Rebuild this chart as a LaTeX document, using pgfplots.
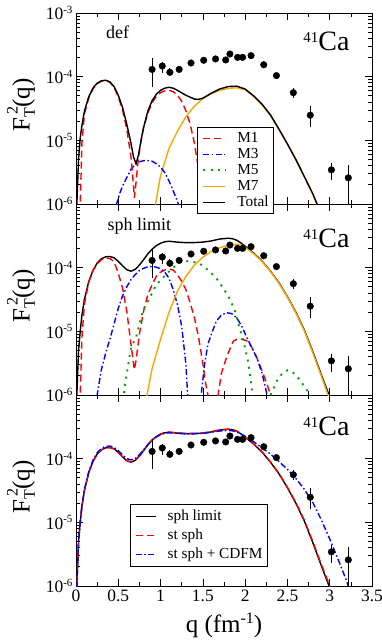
\documentclass[border=0pt]{standalone}
\usepackage{fontspec}
\setmainfont{Liberation Serif}
\usepackage{pgfplots}
\usepackage{pgfplotstable}
\pgfplotsset{compat=1.18}
\definecolor{grorange}{RGB}{255,165,0}
\definecolor{grgreen}{RGB}{0,165,0}
\newcommand\tenp[1]{10\raisebox{0.8ex}{\fontsize{11}{11}\selectfont -#1}}
\newcommand\ylab{F\rlap{\kern0.12em\raisebox{1.05ex}{\fontsize{16}{16}\selectfont 2}}\raisebox{-0.45ex}{\fontsize{16}{16}\selectfont T}(q)}

\tikzset{
  lm1/.style={red, line width=1.4pt, dash pattern=on 7pt off 4pt},
  lm3/.style={blue, line width=1.4pt, dash pattern=on 6pt off 2.5pt on 1.5pt off 2.5pt},
  lm5/.style={grgreen, line width=1.9pt, dash pattern=on 2pt off 5.3pt},
  lm7/.style={grorange, line width=1.4pt},
  ltot/.style={black, line width=1.4pt},
}
\pgfplotsset{
  every axis/.append style={
    scale only axis, width=296pt, height=191pt,
    xmin=0, xmax=3.5, ymin=1e-6, ymax=1e-3,
    xtick={0,0.5,1,1.5,2,2.5,3,3.5},
    minor xtick={0.25,0.75,1.25,1.75,2.25,2.75,3.25},
    ytick={1e-6,1e-5,1e-4,1e-3},
    minor ytick={2e-6,3e-6,4e-6,5e-6,6e-6,7e-6,8e-6,9e-6,2e-5,3e-5,4e-5,5e-5,6e-5,7e-5,8e-5,9e-5,2e-4,3e-4,4e-4,5e-4,6e-4,7e-4,8e-4,9e-4},
    tick align=inside, major tick length=7pt, minor tick length=4pt,
    axis line style={line width=0.9pt},
    tick style={black, line width=0.7pt},
    tick label style={font=\fontsize{17.4}{17.4}\selectfont},
    ylabel={\ylab},
    ylabel style={font=\fontsize{25}{25}\selectfont, at={(axis description cs:-0.186,0.52)}, anchor=center},
    legend cell align=left,
  },
}

\pgfplotstableread{
q f ep em
0.90 1.30e-4 6.4e-5 6.0e-5
1.02 1.47e-4 2.5e-5 3.2e-5
1.11 1.17e-4 1.8e-5 1.4e-5
1.22 1.30e-4 8e-6 8e-6
1.36 1.64e-4 1e-5 1e-5
1.51 1.81e-4 1e-5 1e-5
1.65 1.90e-4 1.5e-5 1.5e-5
1.77 1.83e-4 2e-5 2e-5
1.82 2.27e-4 1.5e-5 1.5e-5
1.91 2.01e-4 1e-5 1e-5
1.97 2.01e-4 1e-5 1e-5
2.07 2.14e-4 1e-5 1e-5
2.22 1.54e-4 1e-5 1e-5
2.37 1.04e-4 8e-6 8e-6
2.57 5.6e-5 1.0e-5 1.0e-5
2.77 2.48e-5 1.0e-5 0.85e-5
3.02 3.44e-6 0.9e-6 1.1e-6
3.22 2.58e-6 1.5e-6 1.65e-6
}\expdata

\begin{document}
\begin{tikzpicture}
% ---------------- panel 3 ----------------
\begin{semilogyaxis}[at={(76pt,-586pt)}, anchor=south west,
  xticklabels={0,0.5,1,1.5,2,2.5,3,3.5},
  yticklabels={\tenp{6},\tenp{5},\tenp{4},{}},
  xlabel={q (fm\raisebox{0.85ex}{\fontsize{16}{16}\selectfont -1})},
  xlabel style={font=\fontsize{25}{25}\selectfont, at={(axis description cs:0.5,-0.246)}, anchor=base},
  legend style={at={(0.182,0.429)}, anchor=north west, draw=black, line width=0.8pt, fill=white,
    font=\fontsize{15.3}{15.3}\selectfont, inner xsep=5pt, inner ysep=4.5pt, row sep=4pt, column sep=11pt,
    nodes={inner sep=0pt, text height=12pt, text depth=3pt}},
]
\addplot[forget plot, ltot] coordinates {(0,1e-8)(0.01,1e-6)(0.03,5e-6)(0.05,1.0e-5)(0.07,1.8e-5)(0.1,3.2e-5)(0.15,6.0e-5)(0.2,9.0e-5)(0.25,1.18e-4)(0.3,1.38e-4)(0.35,1.48e-4)(0.4,1.5e-4)(0.45,1.43e-4)(0.5,1.26e-4)(0.55,1.07e-4)(0.6,9.3e-5)(0.65,8.8e-5)(0.7,9.4e-5)(0.75,1.1e-4)(0.8,1.34e-4)(0.85,1.65e-4)(0.9,1.95e-4)(0.95,2.22e-4)(1.0,2.42e-4)(1.05,2.55e-4)(1.1,2.6e-4)(1.2,2.52e-4)(1.3,2.47e-4)(1.4,2.48e-4)(1.5,2.52e-4)(1.6,2.63e-4)(1.7,2.82e-4)(1.8,2.9e-4)(1.85,2.85e-4)(1.9,2.7e-4)(1.95,2.45e-4)(2.0,2.17e-4)(2.1,1.7e-4)(2.2,1.27e-4)(2.3,8.8e-5)(2.4,5.8e-5)(2.5,3.5e-5)(2.6,2.0e-5)(2.7,1.05e-5)(2.8,4.8e-6)(2.9,2.1e-6)(2.95,1.4e-6)(3.0,9.5e-7)(3.05,6e-7)(3.1,3e-7)};
\addplot[forget plot, lm1] coordinates {(0,1e-8)(0.01,1e-6)(0.03,5e-6)(0.05,1.0e-5)(0.07,1.8e-5)(0.1,3.2e-5)(0.15,6.0e-5)(0.2,9.0e-5)(0.25,1.18e-4)(0.3,1.37e-4)(0.35,1.47e-4)(0.4,1.49e-4)(0.45,1.42e-4)(0.5,1.26e-4)(0.55,1.07e-4)(0.6,9.3e-5)(0.65,8.9e-5)(0.7,9.5e-5)(0.75,1.12e-4)(0.8,1.36e-4)(0.85,1.67e-4)(0.9,1.97e-4)(0.95,2.24e-4)(1.0,2.44e-4)(1.05,2.57e-4)(1.1,2.62e-4)(1.2,2.55e-4)(1.3,2.49e-4)(1.4,2.5e-4)(1.5,2.54e-4)(1.6,2.65e-4)(1.7,2.84e-4)(1.8,2.92e-4)(1.85,2.87e-4)(1.9,2.72e-4)(1.95,2.47e-4)(2.0,2.19e-4)(2.1,1.72e-4)(2.2,1.28e-4)(2.3,8.9e-5)(2.4,5.85e-5)(2.5,3.55e-5)(2.6,2.05e-5)(2.7,1.08e-5)(2.8,5.0e-6)(2.9,2.2e-6)(2.95,1.5e-6)(3.0,1.0e-6)(3.05,6.5e-7)(3.1,3e-7)};
\addplot[forget plot, lm3] coordinates {(0,1e-8)(0.01,1e-6)(0.03,5e-6)(0.05,1.0e-5)(0.07,1.8e-5)(0.1,3.3e-5)(0.15,6.2e-5)(0.2,9.4e-5)(0.25,1.24e-4)(0.3,1.45e-4)(0.35,1.56e-4)(0.4,1.58e-4)(0.45,1.5e-4)(0.5,1.34e-4)(0.55,1.15e-4)(0.6,1.0e-4)(0.65,9.6e-5)(0.7,1.0e-4)(0.75,1.15e-4)(0.8,1.38e-4)(0.85,1.67e-4)(0.9,1.96e-4)(0.95,2.2e-4)(1.0,2.38e-4)(1.05,2.5e-4)(1.1,2.55e-4)(1.2,2.5e-4)(1.3,2.45e-4)(1.4,2.46e-4)(1.5,2.5e-4)(1.6,2.6e-4)(1.7,2.72e-4)(1.8,2.78e-4)(1.85,2.74e-4)(1.9,2.62e-4)(1.95,2.45e-4)(2.0,2.25e-4)(2.1,1.85e-4)(2.2,1.48e-4)(2.3,1.18e-4)(2.36,1.0e-4)(2.4,9.0e-5)(2.5,6.8e-5)(2.6,4.9e-5)(2.7,3.3e-5)(2.8,2.05e-5)(2.9,1.1e-5)(3.0,5.5e-6)(3.1,2.6e-6)(3.2,1.2e-6)(3.25,7.5e-7)(3.3,4e-7)};
\addplot[forget plot, only marks, mark=*, mark size=3.3pt, black, mark options={fill=black}, error bars/y dir=both, error bars/y explicit, error bars/error mark=none, error bars/error bar style={line width=0.8pt, black}] table[x=q, y=f, y error plus=ep, y error minus=em] {\expdata};
\addlegendimage{legend image code/.code={\draw[ltot] (0pt,0pt) -- (20pt,0pt);}}
\addlegendimage{legend image code/.code={\draw[lm1] (0pt,0pt) -- (20pt,0pt);}}
\addlegendimage{legend image code/.code={\draw[lm3] (0pt,0pt) -- (20pt,0pt);}}
\legend{sph limit, st sph, st sph + CDFM}
\node[anchor=base east, font=\fontsize{28}{28}\selectfont] at (rel axis cs:0.936,0.79) {\raisebox{8pt}{\fontsize{15}{15}\selectfont 41}Ca};
\end{semilogyaxis}
% ---------------- panel 2 ----------------
\begin{semilogyaxis}[at={(76pt,-395pt)}, anchor=south west,
  xticklabels={}, yticklabels={\tenp{6},\tenp{5},\tenp{4},{}},
]
\addplot[ltot] coordinates {(0,1e-8)(0.01,1e-6)(0.03,5e-6)(0.05,1.0e-5)(0.07,1.8e-5)(0.1,3.2e-5)(0.15,6.0e-5)(0.2,9.0e-5)(0.25,1.18e-4)(0.3,1.38e-4)(0.35,1.48e-4)(0.4,1.5e-4)(0.45,1.43e-4)(0.5,1.26e-4)(0.55,1.07e-4)(0.6,9.3e-5)(0.65,8.8e-5)(0.7,9.4e-5)(0.75,1.1e-4)(0.8,1.34e-4)(0.85,1.65e-4)(0.9,1.95e-4)(0.95,2.22e-4)(1.0,2.42e-4)(1.05,2.55e-4)(1.1,2.6e-4)(1.2,2.52e-4)(1.3,2.47e-4)(1.4,2.48e-4)(1.5,2.52e-4)(1.6,2.63e-4)(1.7,2.82e-4)(1.8,2.9e-4)(1.85,2.85e-4)(1.9,2.7e-4)(1.95,2.45e-4)(2.0,2.17e-4)(2.1,1.7e-4)(2.2,1.27e-4)(2.3,8.8e-5)(2.4,5.8e-5)(2.5,3.5e-5)(2.6,2.0e-5)(2.7,1.05e-5)(2.8,4.8e-6)(2.9,2.1e-6)(2.95,1.4e-6)(3.0,9.5e-7)(3.05,6e-7)(3.1,3e-7)};
\addplot[lm1] coordinates {(0.03,1e-7)(0.05,1e-6)(0.07,8e-6)(0.1,2.7e-5)(0.15,5.8e-5)(0.2,9e-5)(0.25,1.15e-4)(0.3,1.33e-4)(0.35,1.42e-4)(0.4,1.4e-4)(0.45,1.24e-4)(0.5,8.2e-5)(0.55,4.8e-5)(0.6,2.1e-5)(0.65,6.3e-6)(0.68,3.1e-6)(0.69,2.5e-6)(0.71,3.5e-6)(0.75,9.1e-6)(0.8,2.1e-5)(0.85,3.8e-5)(0.9,5.4e-5)(0.95,7.3e-5)(1.0,8.5e-5)(1.05,9.2e-5)(1.1,9.5e-5)(1.15,9.2e-5)(1.2,7.7e-5)(1.25,6.1e-5)(1.3,4.5e-5)(1.35,2.8e-5)(1.4,1.64e-5)(1.45,8e-6)(1.5,3.1e-6)(1.53,1.6e-6)(1.56,1e-6)(1.6,1e-7)(1.64,1e-7)(1.68,1e-6)(1.72,2.2e-6)(1.78,3.9e-6)(1.82,5.3e-6)(1.86,7.0e-6)(1.9,7.5e-6)(1.94,7.6e-6)(1.98,7.4e-6)(2.02,7.1e-6)(2.08,5.6e-6)(2.14,3.8e-6)(2.2,2.4e-6)(2.25,1.6e-6)(2.3,1e-6)(2.35,4e-7)};
\addplot[lm3] coordinates {(0.21,1e-7)(0.25,1e-6)(0.3,2.5e-6)(0.35,4.5e-6)(0.4,7.5e-6)(0.45,1.3e-5)(0.5,2.3e-5)(0.55,3.6e-5)(0.6,5e-5)(0.65,6.5e-5)(0.7,7.8e-5)(0.75,9e-5)(0.8,9.8e-5)(0.85,1.03e-4)(0.9,1.04e-4)(0.95,1.02e-4)(1.0,9.6e-5)(1.05,8.5e-5)(1.1,6.8e-5)(1.15,4.5e-5)(1.2,2.6e-5)(1.25,1.2e-5)(1.3,3e-6)(1.32,1e-6)(1.36,1e-7)(1.44,1e-7)(1.48,1e-6)(1.52,3e-6)(1.56,6.3e-6)(1.6,9e-6)(1.66,1.45e-5)(1.72,1.8e-5)(1.78,1.96e-5)(1.84,1.9e-5)(1.9,1.64e-5)(1.96,1.2e-5)(2.02,8e-6)(2.08,5.5e-6)(2.14,3.8e-6)(2.2,2.2e-6)(2.26,1e-6)(2.3,3e-7)};
\addplot[lm5] coordinates {(0.53,1e-7)(0.57,1.2e-6)(0.65,5.6e-6)(0.71,8e-6)(0.79,2.1e-5)(0.87,3.35e-5)(0.95,5.4e-5)(1.06,7.7e-5)(1.14,9.8e-5)(1.24,1.24e-4)(1.34,1.27e-4)(1.46,1.17e-4)(1.56,9.2e-5)(1.66,6.8e-5)(1.74,4.8e-5)(1.82,3.2e-5)(1.88,2.1e-5)(1.92,1.3e-5)(1.98,7.1e-6)(2.04,3.1e-6)(2.08,1.2e-6)(2.12,1e-7)(2.26,1e-7)(2.3,1e-6)(2.38,1.7e-6)(2.44,2.2e-6)(2.5,2.45e-6)(2.56,2.3e-6)(2.65,1.7e-6)(2.72,1.25e-6)(2.77,1e-6)(2.8,3e-7)};
\addplot[lm7] coordinates {(0.8,3e-7)(0.84,1e-6)(0.9,2.6e-6)(1.0,7.5e-6)(1.1,2.0e-5)(1.2,4.3e-5)(1.3,7.3e-5)(1.4,1.1e-4)(1.5,1.46e-4)(1.6,1.8e-4)(1.7,2.06e-4)(1.8,2.25e-4)(1.9,2.33e-4)(1.95,2.3e-4)(2.0,2.1e-4)(2.1,1.66e-4)(2.2,1.25e-4)(2.3,8.7e-5)(2.4,5.7e-5)(2.5,3.45e-5)(2.6,1.95e-5)(2.7,1.02e-5)(2.8,4.6e-6)(2.9,2.0e-6)(2.95,1.3e-6)(2.98,1.0e-6)(3.05,5e-7)};
\addplot[only marks, mark=*, mark size=3.3pt, black, mark options={fill=black}, error bars/y dir=both, error bars/y explicit, error bars/error mark=none, error bars/error bar style={line width=0.8pt, black}] table[x=q, y=f, y error plus=ep, y error minus=em] {\expdata};
\node[anchor=base west, font=\fontsize{18}{18}\selectfont] at (rel axis cs:0.095,0.86) {sph limit};
\node[anchor=base east, font=\fontsize{28}{28}\selectfont] at (rel axis cs:0.936,0.77) {\raisebox{8pt}{\fontsize{15}{15}\selectfont 41}Ca};
\end{semilogyaxis}
% ---------------- panel 1 ----------------
\begin{semilogyaxis}[at={(76pt,-204pt)}, anchor=south west,
  xticklabels={}, yticklabels={\tenp{6},\tenp{5},\tenp{4},\tenp{3}},
  legend style={at={(0.409,0.403)}, anchor=north west, draw=black, line width=0.8pt, fill=white,
    font=\fontsize{15.3}{15.3}\selectfont, inner xsep=5pt, inner ysep=4pt, row sep=2pt, column sep=11pt,
    nodes={inner sep=0pt, text height=11pt, text depth=3pt}},
]
\addplot[forget plot, lm7] coordinates {(0.9,1e-7)(0.94,1e-6)(1.0,2.8e-6)(1.1,7.5e-6)(1.2,1.4e-5)(1.3,2.35e-5)(1.4,3.45e-5)(1.5,4.5e-5)(1.6,5.4e-5)(1.7,6.1e-5)(1.8,6.55e-5)(1.9,6.7e-5)(2.0,6.2e-5)(2.1,4.9e-5)(2.2,3.6e-5)(2.3,2.45e-5)(2.4,1.47e-5)(2.5,8.6e-6)(2.6,4.9e-6)(2.7,2.65e-6)(2.8,1.42e-6)(2.85,1.0e-6)(2.9,6.5e-7)(3.0,2e-7)};
\addplot[forget plot, lm3] coordinates {(0.44,1e-7)(0.48,1e-6)(0.52,1.5e-6)(0.55,1.9e-6)(0.6,2.6e-6)(0.65,3.5e-6)(0.7,4.2e-6)(0.75,4.6e-6)(0.8,4.8e-6)(0.85,4.8e-6)(0.9,4.7e-6)(0.95,4.3e-6)(1.0,3.8e-6)(1.05,3.1e-6)(1.1,2.3e-6)(1.15,1.6e-6)(1.2,1.1e-6)(1.22,9e-7)(1.26,3e-7)};
\addplot[forget plot, lm1] coordinates {(0.04,1e-7)(0.05,1e-6)(0.07,9e-6)(0.1,2.6e-5)(0.15,4.6e-5)(0.2,6.4e-5)(0.25,7.7e-5)(0.3,8.5e-5)(0.35,8.7e-5)(0.4,8.2e-5)(0.45,6.8e-5)(0.5,4.8e-5)(0.55,3.0e-5)(0.6,1.5e-5)(0.65,5.5e-6)(0.67,2.8e-6)(0.69,1.25e-6)(0.71,2.2e-6)(0.73,4.2e-6)(0.76,8.5e-6)(0.8,1.6e-5)(0.85,2.7e-5)(0.9,3.9e-5)(0.95,4.9e-5)(1.0,5.6e-5)(1.05,6.0e-5)(1.1,6.1e-5)(1.15,5.8e-5)(1.2,5.1e-5)(1.25,4.1e-5)(1.3,2.9e-5)(1.35,1.8e-5)(1.4,9e-6)(1.45,3.5e-6)(1.5,1e-6)(1.55,1e-7)};
\addplot[forget plot, ltot] coordinates {(0,1e-8)(0.01,1e-6)(0.03,5e-6)(0.05,1.1e-5)(0.07,1.7e-5)(0.1,2.9e-5)(0.15,4.8e-5)(0.2,6.6e-5)(0.25,7.9e-5)(0.3,8.6e-5)(0.35,8.8e-5)(0.4,8.3e-5)(0.45,7e-5)(0.5,5.1e-5)(0.55,3.3e-5)(0.6,1.8e-5)(0.65,9e-6)(0.68,5.5e-6)(0.71,4.3e-6)(0.74,6e-6)(0.78,1.2e-5)(0.8,1.6e-5)(0.85,2.9e-5)(0.9,4.2e-5)(0.95,5.3e-5)(1.0,6.1e-5)(1.05,6.6e-5)(1.1,6.8e-5)(1.15,6.6e-5)(1.2,6.1e-5)(1.3,5.1e-5)(1.4,4.45e-5)(1.45,4.4e-5)(1.5,4.6e-5)(1.6,5.5e-5)(1.7,6.4e-5)(1.8,7.0e-5)(1.9,7.1e-5)(2.0,6.4e-5)(2.1,5.0e-5)(2.2,3.7e-5)(2.3,2.5e-5)(2.4,1.5e-5)(2.5,8.8e-6)(2.6,5.0e-6)(2.7,2.7e-6)(2.8,1.45e-6)(2.85,1.0e-6)(2.9,6.5e-7)(3.0,2e-7)};
\addplot[forget plot, only marks, mark=*, mark size=3.3pt, black, mark options={fill=black}, error bars/y dir=both, error bars/y explicit, error bars/error mark=none, error bars/error bar style={line width=0.8pt, black}] table[x=q, y=f, y error plus=ep, y error minus=em] {\expdata};
\addlegendimage{legend image code/.code={\draw[lm1] (0pt,0pt) -- (22pt,0pt);}}
\addlegendimage{legend image code/.code={\draw[lm3] (0pt,0pt) -- (22pt,0pt);}}
\addlegendimage{legend image code/.code={\draw[lm5] (0pt,0pt) -- (22pt,0pt);}}
\addlegendimage{legend image code/.code={\draw[lm7] (0pt,0pt) -- (22pt,0pt);}}
\addlegendimage{legend image code/.code={\draw[ltot] (0pt,0pt) -- (22pt,0pt);}}
\legend{M1, M3, M5, M7, Total}
\node[anchor=base west, font=\fontsize{18}{18}\selectfont] at (rel axis cs:0.09,0.864) {def};
\node[anchor=base east, font=\fontsize{28}{28}\selectfont] at (rel axis cs:0.936,0.806) {\raisebox{8pt}{\fontsize{15}{15}\selectfont 41}Ca};
\end{semilogyaxis}
\pgfresetboundingbox
\useasboundingbox (0pt,-642pt) rectangle (382pt,0pt);
\end{tikzpicture}
\end{document}
